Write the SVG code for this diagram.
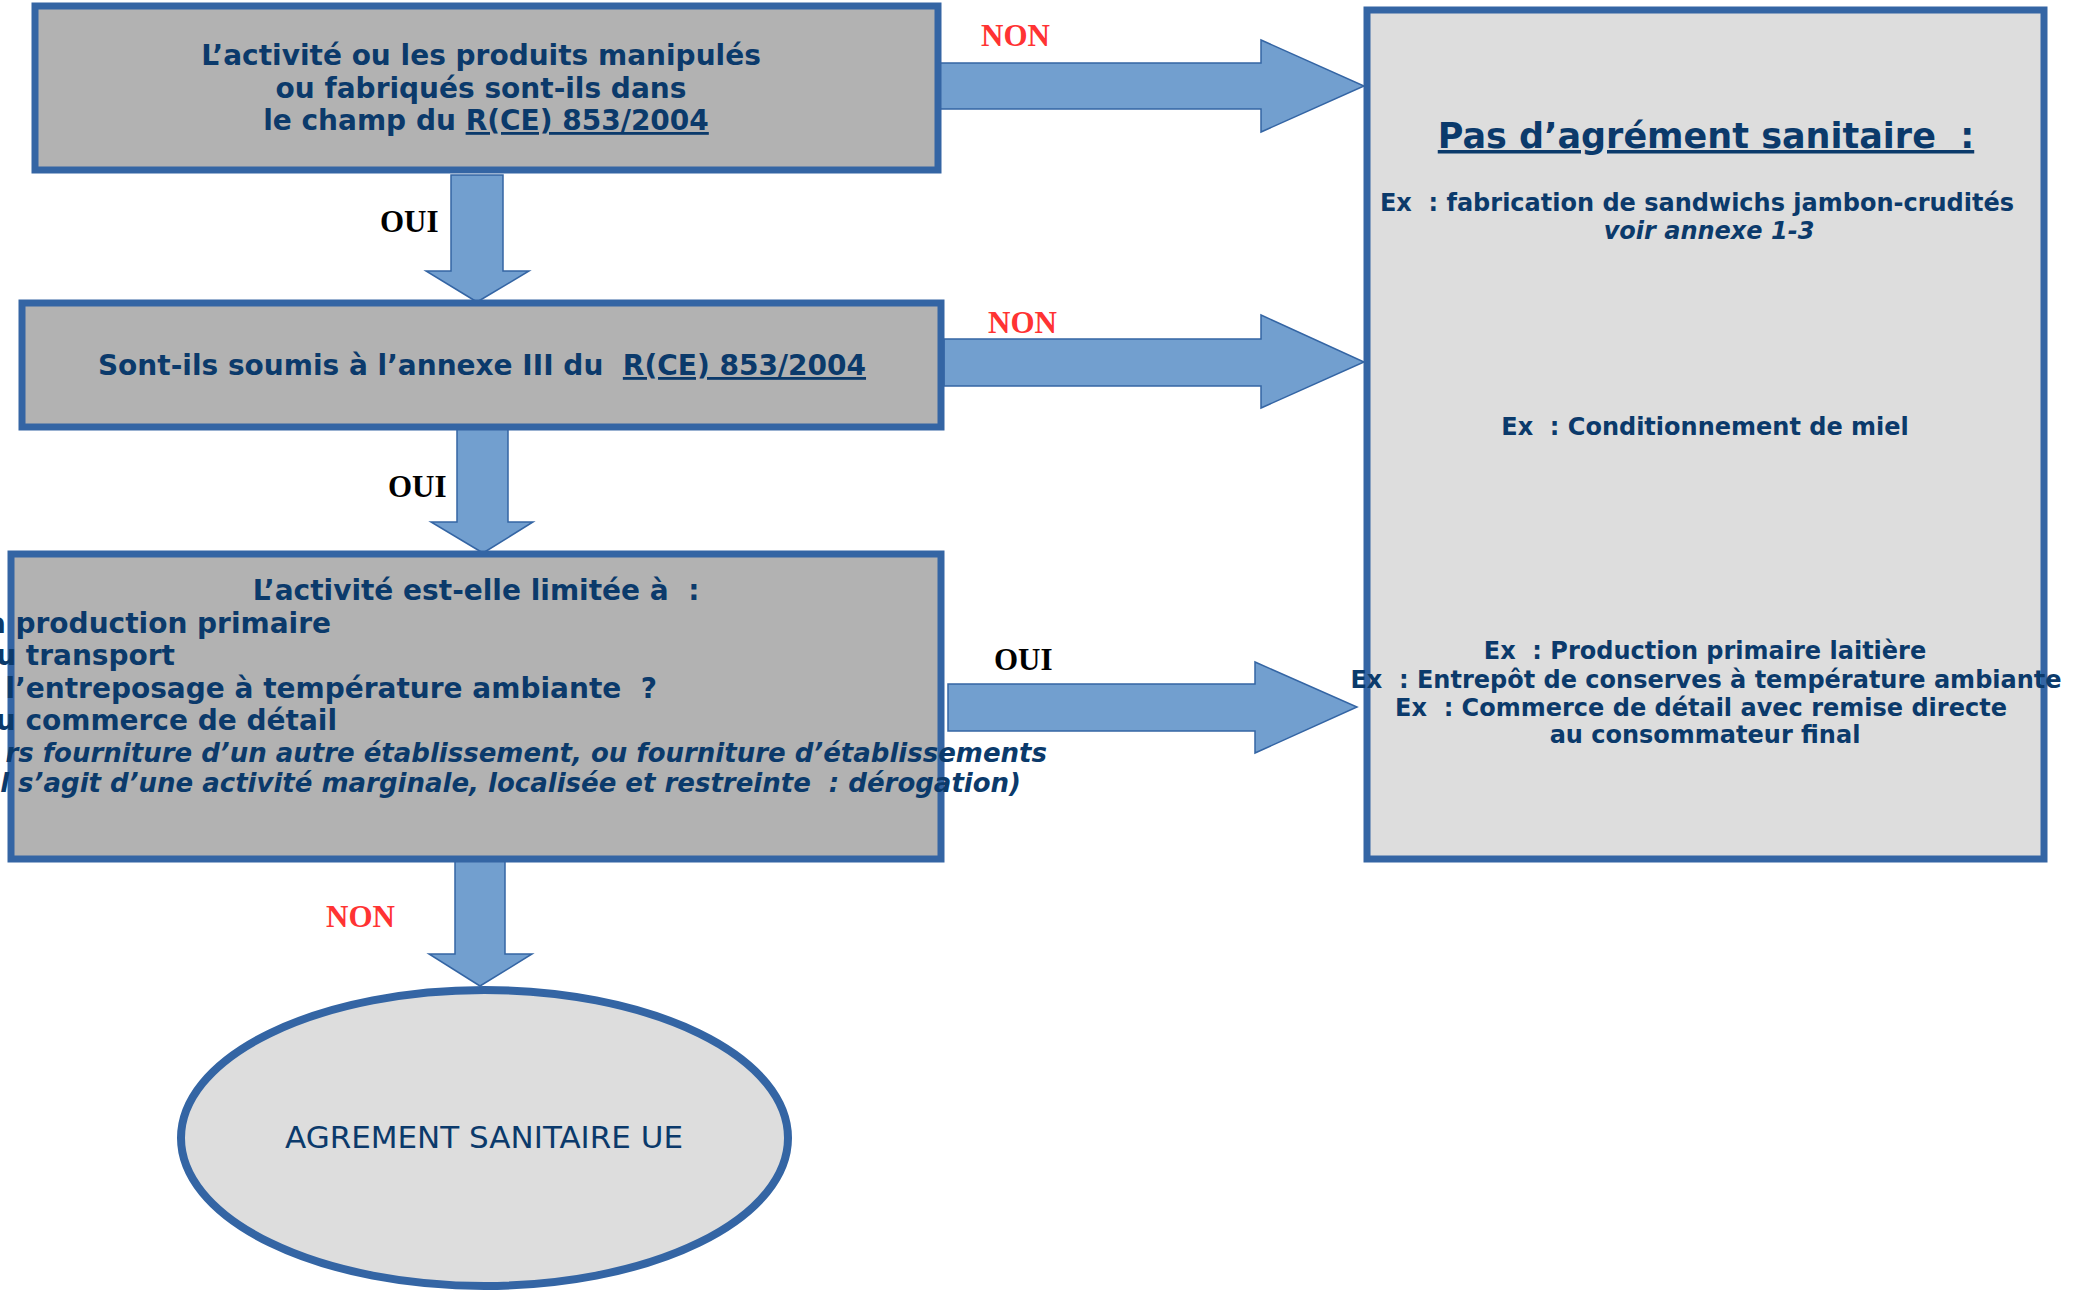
<svg xmlns="http://www.w3.org/2000/svg" width="2078" height="1291" viewBox="0 0 2078 1291">
<style>
text{white-space:pre}
.box{fill:#B2B2B2;stroke:#3465A4;stroke-width:7}
.rbox{fill:#DDDDDD;stroke:#3465A4;stroke-width:7}
.arr{fill:#729FCF;stroke:#3465A4;stroke-width:1.5}
.t{font-family:"DejaVu Sans",sans-serif;font-weight:bold;fill:#0B3A6B}
.tc{text-anchor:middle}
.it{font-style:italic}
.non{font-family:"Liberation Serif",serif;font-weight:bold;fill:#FF3333;font-size:31px}
.oui{font-family:"Liberation Serif",serif;font-weight:bold;fill:#000000;font-size:31px}
</style>
<rect width="2078" height="1291" fill="#FFFFFF"/>
<g id="connectors">
<polygon class="arr" points="939,63 1261,63 1261,40 1364,86 1261,132 1261,109 939,109"/>
<polygon class="arr" points="944,339 1261,339 1261,315 1364,362 1261,408 1261,386 944,386"/>
<polygon class="arr" points="948,684 1255,684 1255,662 1357,707 1255,753 1255,731 948,731"/>
<polygon class="arr" points="451,175 503,175 503,271 529,271 477,302 426,271 451,271"/>
<polygon class="arr" points="457,427 508,427 508,522 533,522 483,553 431,522 457,522"/>
<polygon class="arr" points="455,859 505,859 505,954 532,954 480,986 429,954 455,954"/>
<text class="non" x="981" y="46">NON</text>
<text class="non" x="988" y="333">NON</text>
<text class="oui" x="994" y="670">OUI</text>
<text class="oui" x="380" y="232">OUI</text>
<text class="oui" x="388" y="497">OUI</text>
<text class="non" x="326" y="927">NON</text>
</g>
<g id="node-champ">
<rect class="box" x="35" y="6" width="903" height="164"/>
<text class="t tc" font-size="28"><tspan x="481" y="65">L’activité ou les produits manipulés</tspan><tspan x="481" y="98">ou fabriqués sont-ils dans</tspan><tspan x="486" y="130">le champ du <tspan text-decoration="underline">R(CE) 853/2004</tspan></tspan></text>
</g>
<g id="node-annexe">
<rect class="box" x="22" y="303" width="919" height="124"/>
<text class="t tc" font-size="28" x="482" y="375">Sont-ils soumis à l’annexe III du  <tspan text-decoration="underline">R(CE) 853/2004</tspan></text>
</g>
<g id="node-limitee">
<rect class="box" x="11" y="554" width="930" height="305"/>
<text class="t tc" font-size="28" x="476" y="600">L’activité est-elle limitée à  :</text>
<text class="t" font-size="28" text-anchor="end" x="331" y="633">a production primaire</text>
<text class="t" font-size="28" text-anchor="end" x="175" y="665">u transport</text>
<text class="t" font-size="28" text-anchor="end" x="657" y="698">l’entreposage à température ambiante  ?</text>
<text class="t" font-size="28" text-anchor="end" x="337" y="730">u commerce de détail</text>
<text class="t it" font-size="26" text-anchor="end" x="1047" y="762">rs fourniture d’un autre établissement, ou fourniture d’établissements</text>
<text class="t it" font-size="26" text-anchor="end" x="1021" y="792">l s’agit d’une activité marginale, localisée et restreinte  : dérogation)</text>
</g>
<g id="node-pas-agrement">
<rect class="rbox" x="1367" y="10" width="677" height="849"/>
<text class="t tc" font-size="35" x="1706" y="148" text-decoration="underline">Pas d’agrément sanitaire  :</text>
<text class="t tc" font-size="24" x="1697" y="211">Ex  : fabrication de sandwichs jambon-crudités</text>
<text class="t tc it" font-size="24" x="1709" y="239">voir annexe 1-3</text>
<text class="t tc" font-size="24" x="1705" y="435">Ex  : Conditionnement de miel</text>
<text class="t tc" font-size="24" x="1705" y="659">Ex  : Production primaire laitière</text>
<text class="t tc" font-size="24" x="1706" y="688">Ex  : Entrepôt de conserves à température ambiante</text>
<text class="t tc" font-size="24" x="1701" y="716">Ex  : Commerce de détail avec remise directe</text>
<text class="t tc" font-size="24" x="1705" y="743">au consommateur final</text>
</g>
<g id="node-agrement-ue">
<ellipse cx="484.5" cy="1138" rx="303.5" ry="148" fill="#DDDDDD" stroke="#3465A4" stroke-width="8"/>
<text font-family="DejaVu Sans,sans-serif" font-size="31" fill="#0B3A6B" text-anchor="middle" x="484" y="1148">AGREMENT SANITAIRE UE</text>
</g>
</svg>
